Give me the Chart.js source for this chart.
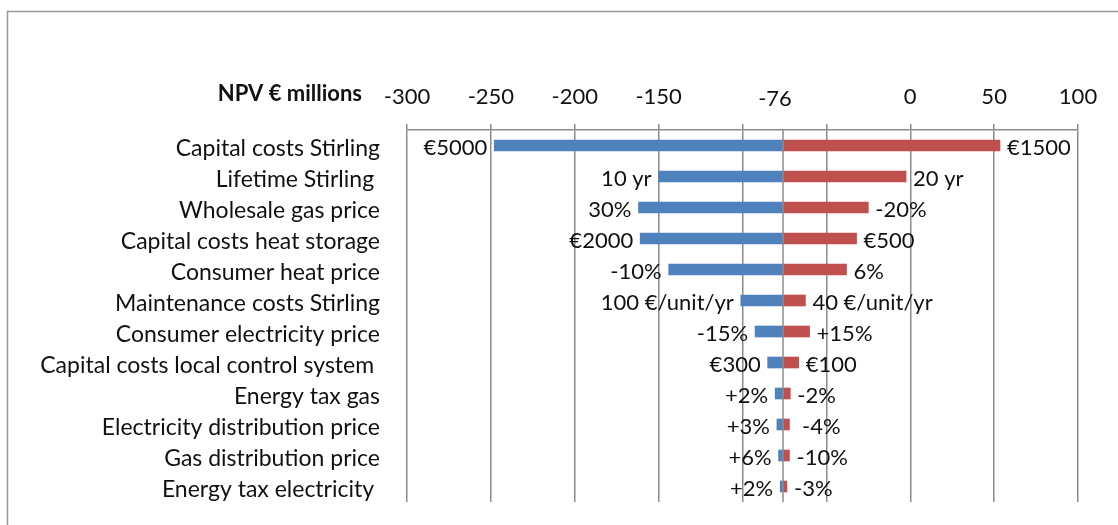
<!DOCTYPE html>
<html>
<head>
<meta charset="utf-8">
<script src="https://cdn.jsdelivr.net/npm/chart.js@4.4.0/dist/chart.umd.min.js"></script>
<style>
    html, body { margin: 0; padding: 0; background: #fff; }
    #wrap { width: 1118px; height: 525px; position: relative; }
</style>
</head>
<body>
<div id="wrap"><canvas id="tornado" width="1118" height="525"></canvas></div>
<script>
// tornado data: NPV (€ millions) for the low / high case of each parameter
const categories = [
    "Capital costs Stirling",
    "Lifetime Stirling ",
    "Wholesale gas price",
    "Capital costs heat storage",
    "Consumer heat price",
    "Maintenance costs Stirling",
    "Consumer electricity price",
    "Capital costs local control system ",
    "Energy tax gas",
    "Electricity distribution price",
    "Gas distribution price",
    "Energy tax electricity "
];
const baseValue = -76;
const lowCase = [-248, -150, -162, -161, -144, -101, -92.5, -85, -80.5, -79.5, -78.5, -77.5];
const highCase = [53.5, -2.5, -25, -32, -38, -62.5, -60, -66.5, -71.5, -72, -72, -73.5];
const lowLabels = ["€5000", "10 yr", "30%", "€2000", "-10%", "100 €/unit/yr", "-15%", "€300", "+2%", "+3%", "+6%", "+2%"];
const highLabels = ["€1500", "20 yr", "-20%", "€500", "6%", "40 €/unit/yr", "+15%", "€100", "-2%", " -4%", "-10%", "-3%"];
const shownTicks = [-300, -250, -200, -150, 0, 50, 100];

const FONT = "Lato";
const gridColor = "#8c8c8c";

// extra drawing: frame, axis title, base line, base label, bar end labels
const decorations = {
    id: "decorations",
    beforeDraw(chart) {
        const ctx = chart.ctx;
        ctx.save();
        ctx.fillStyle = "#fff";
        ctx.fillRect(0, 0, chart.width, chart.height);
        ctx.strokeStyle = "#999";
        ctx.lineWidth = 1.5;
        ctx.strokeRect(7.5, 11.5, 1300, 700);
        ctx.restore();
    },
    afterDatasetsDraw(chart) {
        const ctx = chart.ctx;
        const x = chart.scales.x;
        const y = chart.scales.y;
        const area = chart.chartArea;
        ctx.save();

        // vertical line at the base case
        const bx = Math.round(x.getPixelForValue(baseValue));
        ctx.strokeStyle = gridColor;
        ctx.lineWidth = 1.5;
        ctx.beginPath();
        ctx.moveTo(bx, area.top);
        ctx.lineTo(bx, area.bottom);
        ctx.stroke();

        ctx.fillStyle = "#111";
        ctx.font = "22px " + FONT;
        ctx.textBaseline = "middle";
        ctx.textAlign = "center";
        ctx.fillText(String(baseValue), bx - 8, 99);

        ctx.font = "bold 22px " + FONT;
        ctx.textAlign = "right";
        ctx.fillText("NPV € millions", 362, 94);

        ctx.font = "22px " + FONT;
        categories.forEach((c, i) => {
            const cy = y.getPixelForValue(i) + 2;
            ctx.textAlign = "right";
            ctx.fillText(lowLabels[i], x.getPixelForValue(lowCase[i]) - 7, cy);
            ctx.textAlign = "left";
            ctx.fillText(highLabels[i], x.getPixelForValue(highCase[i]) + 7, cy);
        });
        ctx.restore();
    }
};

new Chart(document.getElementById("tornado"), {
    type: "bar",
    data: {
        labels: categories,
        datasets: [
            {
                label: "Low",
                data: categories.map((c, i) => [lowCase[i], baseValue]),
                backgroundColor: "#4F81BD",
                barThickness: 11,
                grouped: false
            },
            {
                label: "High",
                data: categories.map((c, i) => [baseValue, highCase[i]]),
                backgroundColor: "#C0504D",
                barThickness: 11,
                grouped: false
            }
        ]
    },
    options: {
        indexAxis: "y",
        responsive: false,
        animation: false,
        layout: { padding: { left: 0, top: 3, right: 40, bottom: 23 } },
        plugins: {
            legend: { display: false },
            tooltip: { enabled: false }
        },
        scales: {
            x: {
                position: "top",
                min: -300,
                max: 100,
                afterFit: (scale) => { scale.height = 127; },
                ticks: {
                    stepSize: 50,
                    padding: 14,
                    color: "#111",
                    font: { family: FONT, size: 22 },
                    callback: (v) => shownTicks.includes(v) ? String(v) : ""
                },
                grid: { color: gridColor, lineWidth: 1.5, tickLength: 6, tickColor: gridColor },
                border: { display: true, color: gridColor, width: 1.5 }
            },
            y: {
                afterFit: (scale) => {
                    scale.width = 407;
                    scale.paddingTop = 0;
                    scale.paddingBottom = 0;
                },
                ticks: {
                    autoSkip: false,
                    padding: 27,
                    labelOffset: 3,
                    color: "#111",
                    font: { family: FONT, size: 23 }
                },
                grid: { display: false, drawTicks: false },
                border: { display: false }
            }
        }
    },
    plugins: [decorations]
});
</script>
</body>
</html>
